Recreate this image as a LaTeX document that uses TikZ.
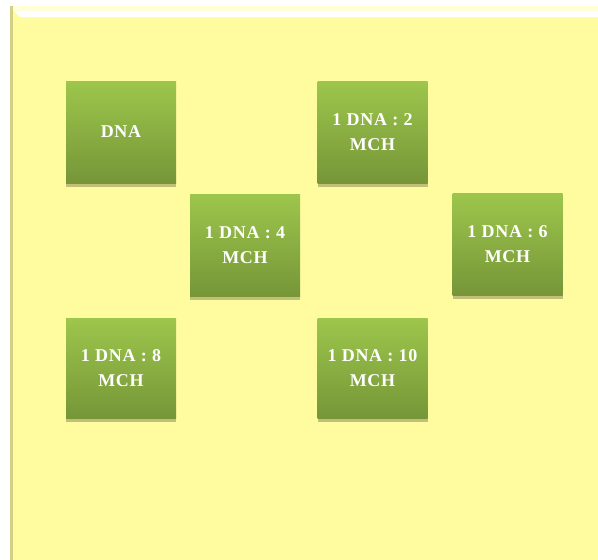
\documentclass[tikz,border=0pt]{standalone}
\usepackage{fontspec}
\setmainfont{Liberation Serif}
\usetikzlibrary{shadows}
\definecolor{bgyel}{HTML}{FFFC9F}
\definecolor{edgeyel}{HTML}{D3CF84}
\definecolor{gtop}{HTML}{9DC64C}
\definecolor{gbot}{HTML}{769638}
\tikzset{
  greenbox/.style={rectangle, minimum width=110pt, minimum height=102pt, inner sep=0pt,
    top color=gtop, bottom color=gbot, align=center, text=white,
    font=\fontsize{18}{25}\selectfont\bfseries\addfontfeature{LetterSpace=4},
    drop shadow={shadow xshift=0pt, shadow yshift=-3.5pt, opacity=0.45, fill=black!60!yellow}}
}
\begin{document}
\begin{tikzpicture}[x=1pt,y=-1pt]
\useasboundingbox (0,0) rectangle (598,560);
\fill[white] (0,0) rectangle (598,560);
% panel
\fill[bgyel] (10,6) rectangle (598,560);
\fill[edgeyel] (10,6) rectangle (13,560);
\fill[white!60!bgyel] (13,6) rectangle (598,11);
\fill[white] (14,11) -- (598,11) -- (598,17) -- (20,17) -- cycle;
% boxes
\node[greenbox] (dna) at (121,132) {DNA};
\node[greenbox] (r2) at (372.5,132) {1 DNA : 2\\MCH};
\node[greenbox] (r4) at (245,245) {1 DNA : 4\\MCH};
\node[greenbox] (r6) at (507.5,244) {1 DNA : 6\\MCH};
\node[greenbox, minimum height=100pt] (r8) at (121,368) {1 DNA : 8\\MCH};
\node[greenbox, minimum height=100pt] (r10) at (372.5,368) {1 DNA : 10\\MCH};
\end{tikzpicture}
\end{document}
